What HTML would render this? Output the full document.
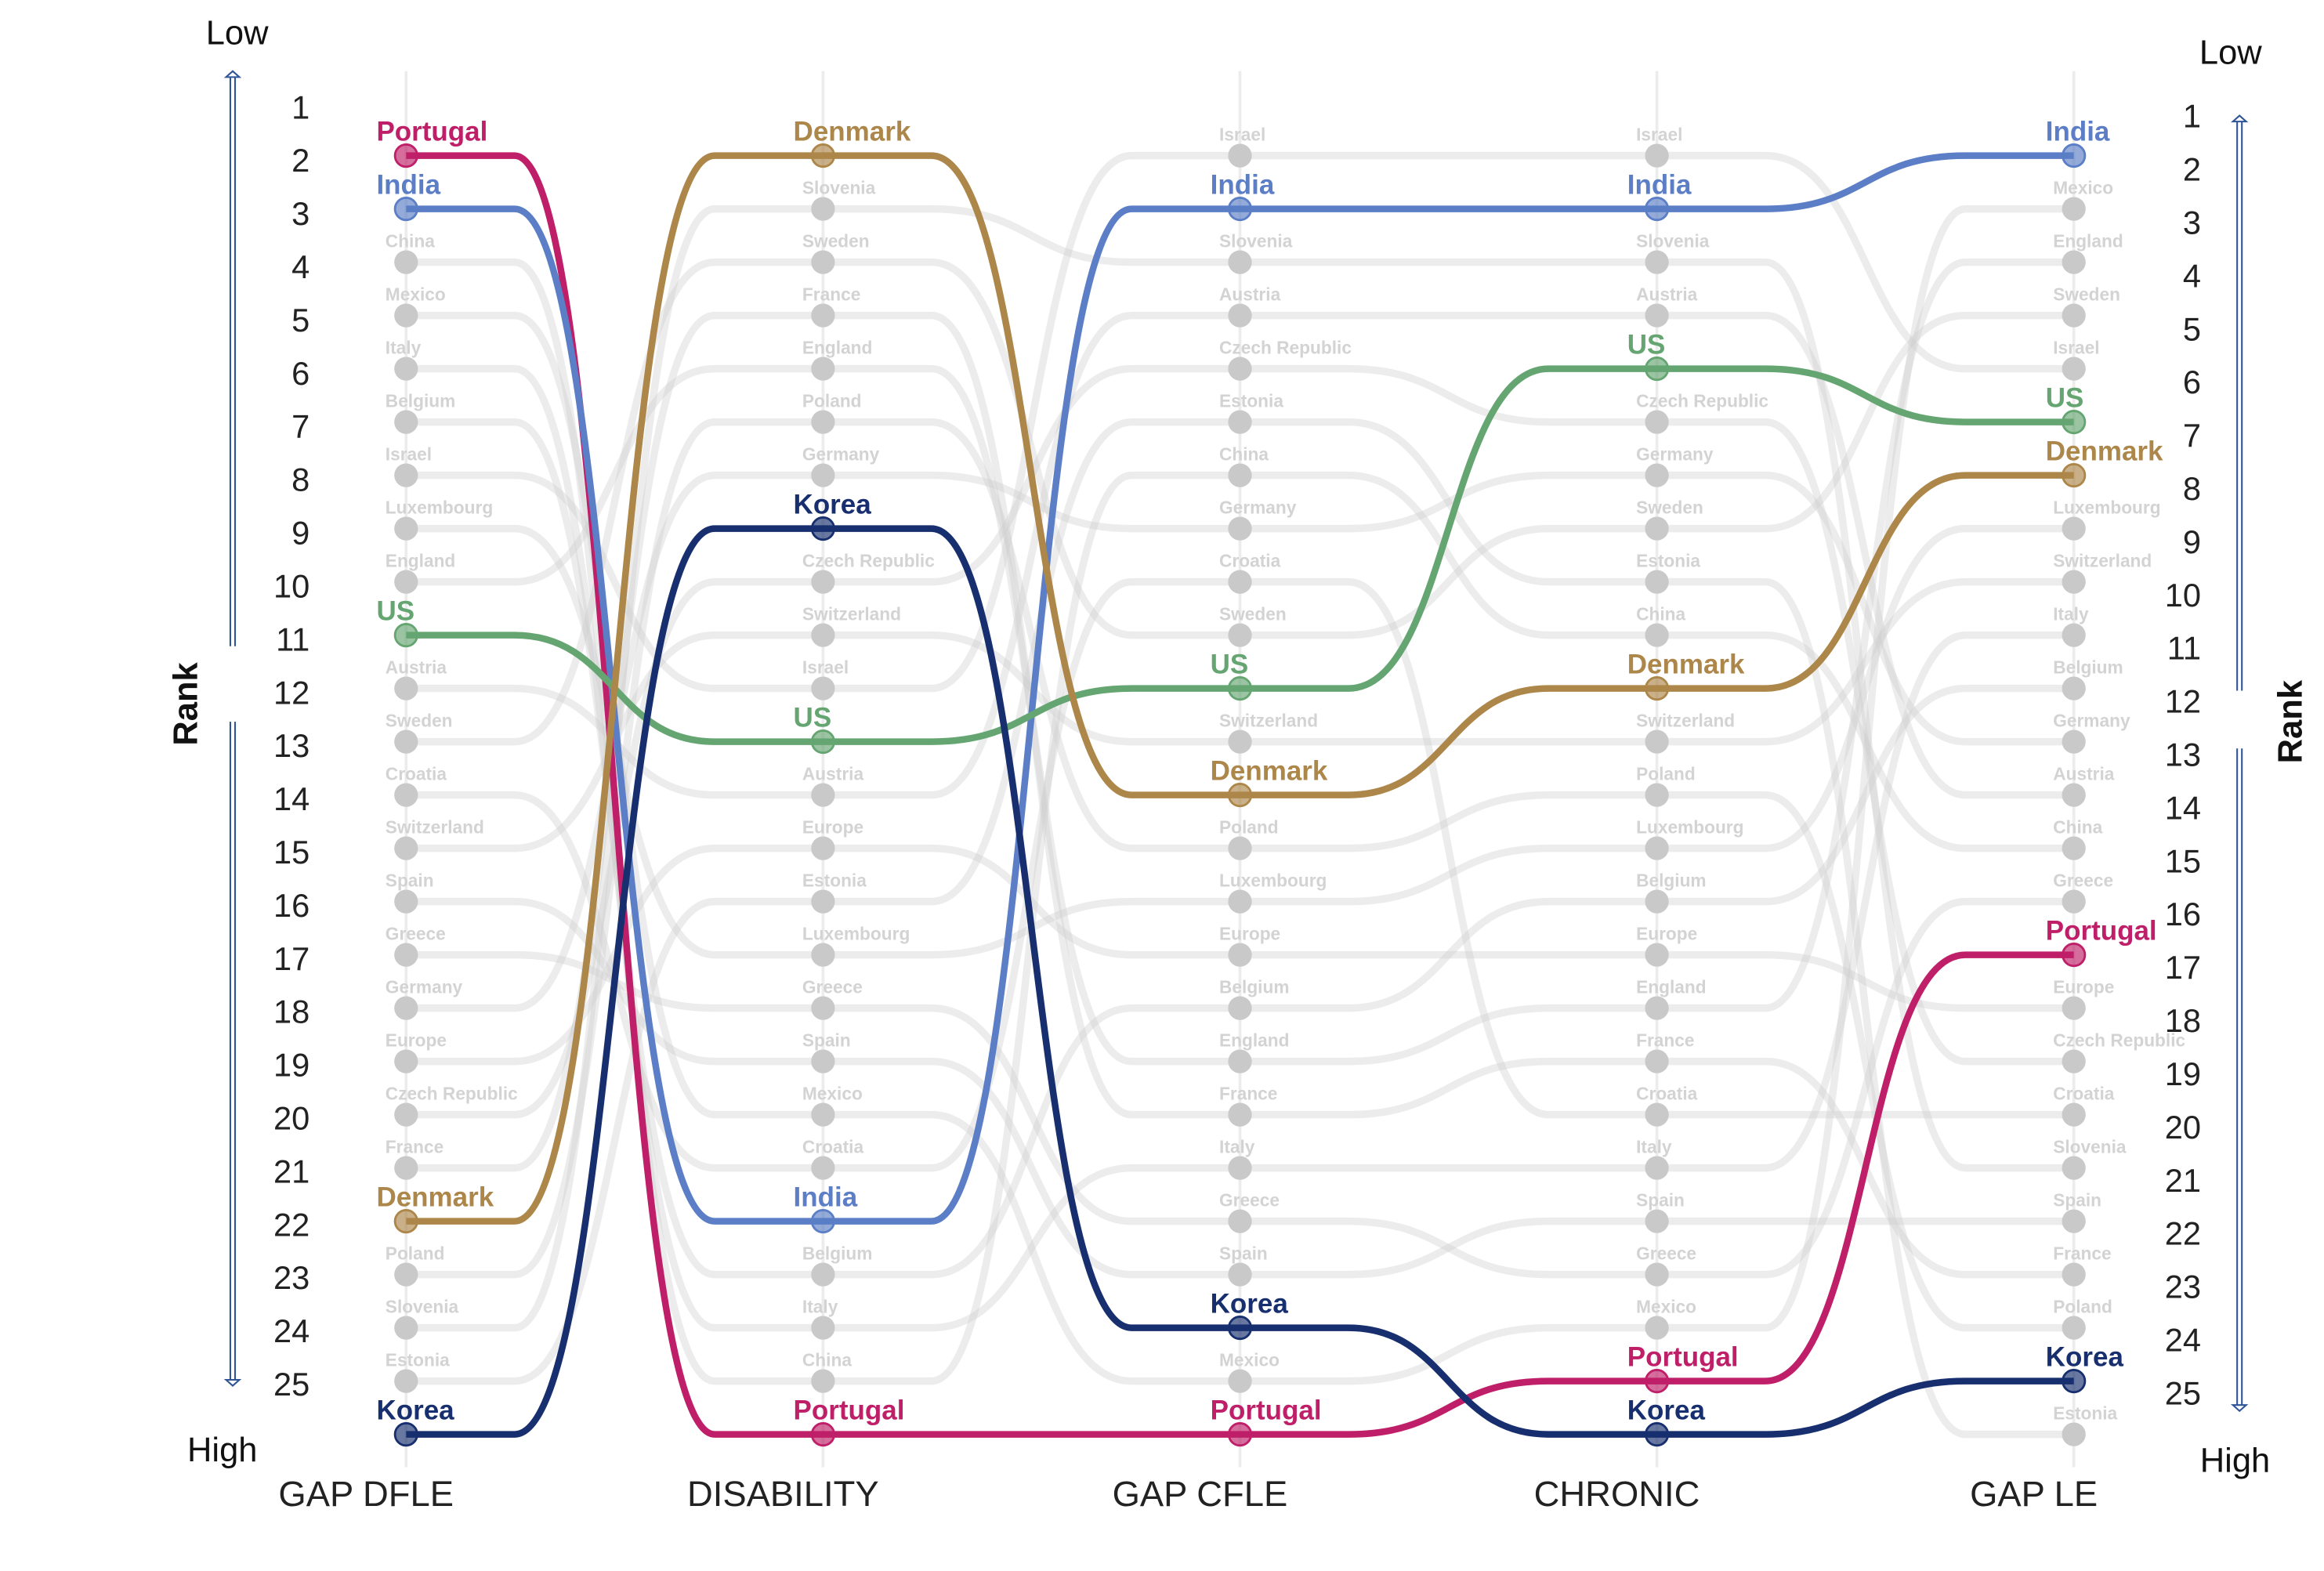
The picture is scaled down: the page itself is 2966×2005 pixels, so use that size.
<!DOCTYPE html>
<html><head><meta charset="utf-8">
<style>
html,body{margin:0;padding:0;background:#fff;}
svg{display:block;font-family:"Liberation Sans",Arial,sans-serif;}
</style></head>
<body>
<svg id="chart" width="2966" height="2005" viewBox="0 0 1568 1060" preserveAspectRatio="none" xmlns="http://www.w3.org/2000/svg">
  <g id="axes"></g>
  <g id="gray-lines"></g>
  <g id="hl-lines"></g>
  <g id="dots"></g>
  <g id="labels"></g>
</svg>
<script>
// ---- data ----
const columnNames = ["GAP DFLE","DISABILITY","GAP CFLE","CHRONIC","GAP LE"];
const rankStart = 2; // first country in each list has this rank
const gapDfleOrder = ["Portugal","India","China","Mexico","Italy","Belgium","Israel","Luxembourg","England","US","Austria","Sweden","Croatia","Switzerland","Spain","Greece","Germany","Europe","Czech Republic","France","Denmark","Poland","Slovenia","Estonia","Korea"];
const disabilityOrder = ["Denmark","Slovenia","Sweden","France","England","Poland","Germany","Korea","Czech Republic","Switzerland","Israel","US","Austria","Europe","Estonia","Luxembourg","Greece","Spain","Mexico","Croatia","India","Belgium","Italy","China","Portugal"];
const gapCfleOrder = ["Israel","India","Slovenia","Austria","Czech Republic","Estonia","China","Germany","Croatia","Sweden","US","Switzerland","Denmark","Poland","Luxembourg","Europe","Belgium","England","France","Italy","Greece","Spain","Korea","Mexico","Portugal"];
const chronicOrder = ["Israel","India","Slovenia","Austria","US","Czech Republic","Germany","Sweden","Estonia","China","Denmark","Switzerland","Poland","Luxembourg","Belgium","Europe","England","France","Croatia","Italy","Spain","Greece","Mexico","Portugal","Korea"];
const gapLeOrder = ["India","Mexico","England","Sweden","Israel","US","Denmark","Luxembourg","Switzerland","Italy","Belgium","Germany","Austria","China","Greece","Portugal","Europe","Czech Republic","Croatia","Slovenia","Spain","France","Poland","Korea","Estonia"];
const orders = [gapDfleOrder, disabilityOrder, gapCfleOrder, chronicOrder, gapLeOrder];
const highlightNames = ["Portugal","India","US","Denmark","Korea"];
const highlightColors = ["#bf1f68","#5b7ec6","#65a571","#ad8649","#172f6e"];
const leftTicks = [1,2,3,4,5,6,7,8,9,10,11,12,13,14,15,16,17,18,19,20,21,22,23,24,25];
const rightTicks = [1,2,3,4,5,6,7,8,9,10,11,12,13,14,15,16,17,18,19,20,21,22,23,24,25];

// ---- scales ----
const NS="http://www.w3.org/2000/svg";
const colX = i => 274 + i*281.3;
const rankY = r => 105 + (r-2)*35.95;
const leftTickY = t => 72 + (t-1)*35.9;
const rightTickY = t => 78 + (t-1)*35.9;
function mk(tag, attrs, parent){const e=document.createElementNS(NS,tag);for(const k in attrs)e.setAttribute(k,attrs[k]);parent.appendChild(e);return e;}
const axes=document.getElementById('axes'), gl=document.getElementById('gray-lines'), hl=document.getElementById('hl-lines'), dots=document.getElementById('dots'), labs=document.getElementById('labels');

function rankOf(c, name){return orders[c].indexOf(name)+rankStart;}
const countries = gapDfleOrder.slice();

columnNames.forEach((n,i)=>{
  const l=mk('line',{x1:colX(i),x2:colX(i),y1:48,y2:990,stroke:'#ececec','stroke-width':2},axes);
  
  
  const t=mk('text',{x:colX(i)-27,y:1016,'text-anchor':'middle','font-size':24,fill:'#222'},axes);
  t.textContent=n;
  
  
});

leftTicks.forEach(t=>{
  const e=mk('text',{x:209,y:leftTickY(t)+8,'text-anchor':'end','font-size':22,fill:'#222'},axes);
  e.textContent=t;
  
  
});
rightTicks.forEach(t=>{
  const e=mk('text',{x:1485,y:rightTickY(t)+8,'text-anchor':'end','font-size':22,fill:'#222'},axes);
  e.textContent=t;
  
  
});

function txt(x,y,s,attrs,name){const e=mk('text',Object.assign({x:x,y:y,fill:'#111'},attrs),axes);e.textContent=s;return e;}
txt(160,30,'Low',{'text-anchor':'middle','font-size':23},'left-low-label');
txt(150,986,'High',{'text-anchor':'middle','font-size':23},'left-high-label');
txt(1505,43,'Low',{'text-anchor':'middle','font-size':23},'right-low-label');
txt(1508,993,'High',{'text-anchor':'middle','font-size':23},'right-high-label');
txt(0,0,'Rank',{'text-anchor':'middle','font-size':23,'font-weight':'bold',transform:'translate(133,475) rotate(-90)'},'left-axis-title');
txt(0,0,'Rank',{'text-anchor':'middle','font-size':23,'font-weight':'bold',transform:'translate(1553,487) rotate(-90)'},'right-axis-title');

function dArrow(x,y1,y2,up,name){
  const g=mk('g',{fill:'none',stroke:'#2f5597','stroke-width':1.1},axes);
  
  
  const tip = up? y1 : y2, base = up? y2 : y1, d = up?1:-1;
  mk('line',{x1:x-1.6,x2:x-1.6,y1:base,y2:tip+4*d},g);
  mk('line',{x1:x+1.6,x2:x+1.6,y1:base,y2:tip+4*d},g);
  mk('path',{d:`M${x-4.5},${tip+4*d} L${x},${tip} L${x+4.5},${tip+4*d} Z`},g);
}
dArrow(157,48,436,true,'left-up-arrow');
dArrow(157,487,935,false,'left-down-arrow');
dArrow(1511,78,466,true,'right-up-arrow');
dArrow(1511,505,952,false,'right-down-arrow');

function pathFor(name){
  let d='';
  for(let c=0;c<orders.length;c++){
    const x=colX(c), y=rankY(rankOf(c,name));
    if(c===0){d+=`M${x},${y}`;continue;}
    const px=colX(c-1), py=rankY(rankOf(c-1,name)), dx=x-px;
    d+=` L${px+dx*0.26},${py} C${px+dx*0.5},${py} ${px+dx*0.5},${y} ${px+dx*0.74},${y} L${x},${y}`;
  }
  return d;
}

countries.forEach(n=>{
  if(highlightNames.includes(n))return;
  const p=mk('path',{d:pathFor(n),fill:'none',stroke:'rgba(205,205,205,0.38)','stroke-width':5},gl);
  
  
});
highlightNames.forEach((n,i)=>{
  const p=mk('path',{d:pathFor(n),fill:'none',stroke:highlightColors[i],'stroke-width':4.5},hl);
  
  
});

const labelDx=[-20,-20,-20,-20,-19];
orders.forEach((ord,c)=>{
  ord.forEach((n,k)=>{
    const r=k+rankStart, x=colX(c), y=rankY(r);
    const hi=highlightNames.indexOf(n);
    if(hi<0){
      const d=mk('circle',{cx:x,cy:y,r:8,fill:'#c9c9c9'},dots);
      
      
      const t=mk('text',{x:x-14,y:y-10,'font-size':12,'font-weight':'bold',fill:'#d3d3d3'},labs);
      t.textContent=n;
      
      
    } else {
      const col=highlightColors[hi];
      const d=mk('circle',{cx:x,cy:y,r:7.5,fill:col,'fill-opacity':0.65,stroke:col,'stroke-width':1.5},dots);
      
      
      const t=mk('text',{x:x+labelDx[c],y:y-10,'font-size':18.5,'font-weight':'bold',fill:col},labs);
      t.textContent=n;
      
      
    }
  });
});
</script>
</body></html>
